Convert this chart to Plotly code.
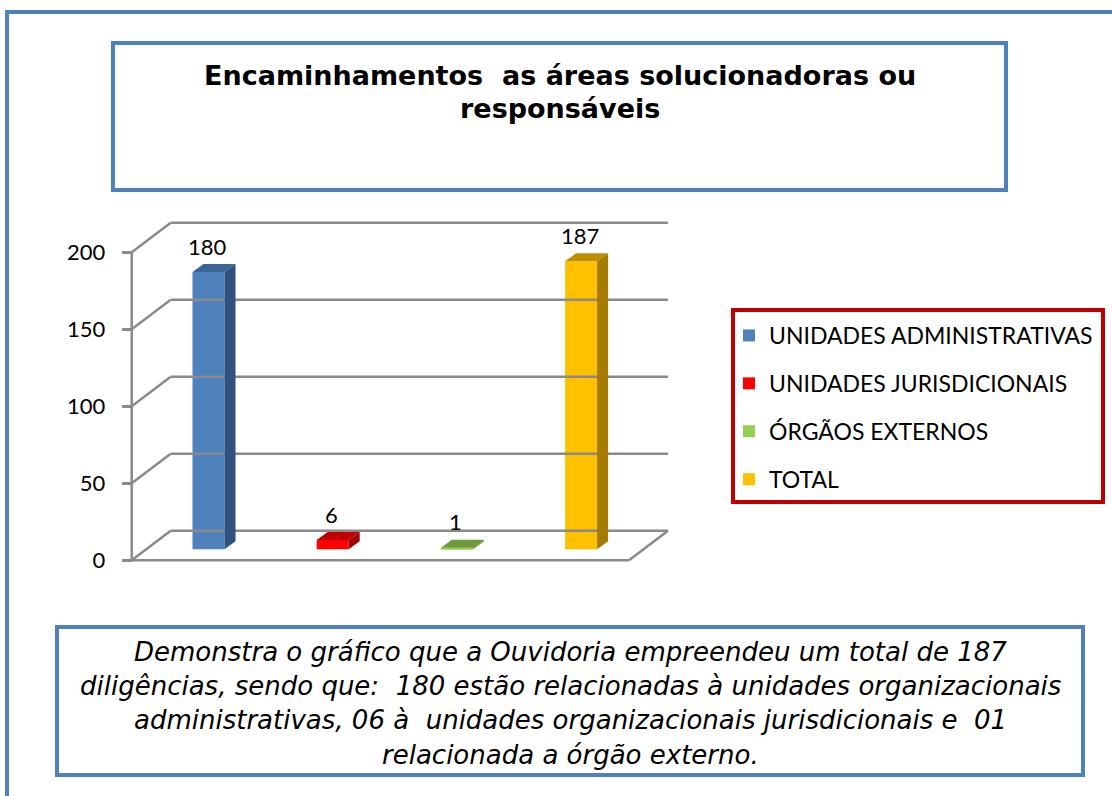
import plotly.graph_objects as go

# ---------------- data ----------------
categories = ["UNIDADES ADMINISTRATIVAS", "UNIDADES JURISDICIONAIS", "ÓRGÃOS EXTERNOS", "TOTAL"]
values = [180, 6, 1, 187]
y_ticks = [0, 50, 100, 150, 200]
title_lines = ["Encaminhamentos  as áreas solucionadoras ou", "responsáveis"]
note_lines = [
    "Demonstra o gráfico que a Ouvidoria empreendeu um total de 187",
    "diligências, sendo que:  180 estão relacionadas à unidades organizacionais",
    "administrativas, 06 à  unidades organizacionais jurisdicionais e  01",
    "relacionada a órgão externo.",
]

# ---------------- style ----------------
front_colors = ["#4F81BD", "#FF0000", "#92D050", "#FFC000"]
side_colors = ["#30527F", "#A00000", "#5E8A2C", "#A67C00"]
top_colors = ["#3D6698", "#C00000", "#6F9A3A", "#BF8F00"]
BLUE = "#4F81BD"
GRID = "#8A8A8A"
LABEL_FONT = "Lato"

W, H = 1112, 796
def pxx(p): return p / W
def pxy(p): return 1 - p / H

# layout geometry (pixels)
CAT0_PX, STEP_PX = 208.5, 124.2
BAR_W = 32 / STEP_PX
XDOM = (60, 720)
YS = 1.54                 # px per unit
BAR_BASE_PX = 549.3
FRONT_BASE_PX = 560.3
YR = (-10, 240)
SIDE_DX, SIDE_DY = 11 / STEP_PX, 8 / YS
BACK_DX, BACK_DY = 39 / STEP_PX, 29.5 / YS
FRONT_LEFT_PX, FRONT_RIGHT_PX = 131.7, 629
FRONT_LEFT = (FRONT_LEFT_PX - CAT0_PX) / STEP_PX
FRONT_RIGHT = (FRONT_RIGHT_PX - CAT0_PX) / STEP_PX

xrange = [(XDOM[0] - CAT0_PX) / STEP_PX, (XDOM[1] - CAT0_PX) / STEP_PX]
def ydom(base):
    top = base - YR[1] * YS
    bot = base - YR[0] * YS
    return [pxy(bot), pxy(top)]

fig = go.Figure()
for i, (cat, v, c) in enumerate(zip(categories, values, front_colors)):
    fig.add_trace(go.Bar(x=[i], y=[v], name=cat, marker_color=c, marker_line_width=0,
                         width=BAR_W, legendgroup=cat, xaxis="x", yaxis="y"))
fig.add_trace(go.Scatter(x=[0], y=[0], xaxis="x", yaxis="y2", mode="markers",
                         marker_opacity=0, showlegend=False, hoverinfo="skip"))

shapes = []
gl = dict(color=GRID, width=2.5)
# walls / gridlines (front plane = y2)
for t in y_ticks:
    shapes.append(dict(type="line", xref="x", yref="y2", x0=FRONT_LEFT, y0=t,
                       x1=FRONT_LEFT + BACK_DX, y1=t + BACK_DY, line=gl, layer="below"))
    shapes.append(dict(type="line", xref="x", yref="y2", x0=FRONT_LEFT + BACK_DX, y0=t + BACK_DY,
                       x1=FRONT_RIGHT + BACK_DX, y1=t + BACK_DY, line=gl, layer="below"))
shapes.append(dict(type="line", xref="x", yref="y2", x0=FRONT_LEFT, y0=0, x1=FRONT_LEFT, y1=y_ticks[-1],
                   line=gl, layer="below"))
shapes.append(dict(type="line", xref="x", yref="y2", x0=FRONT_LEFT, y0=0, x1=FRONT_RIGHT, y1=0,
                   line=gl, layer="below"))
shapes.append(dict(type="line", xref="x", yref="y2", x0=FRONT_RIGHT, y0=0,
                   x1=FRONT_RIGHT + BACK_DX, y1=BACK_DY, line=gl, layer="below"))

# 3D faces of bars
for i, v in enumerate(values):
    xl, xr = i - BAR_W / 2, i + BAR_W / 2
    side = f"M{xr},0 L{xr + SIDE_DX},{SIDE_DY} L{xr + SIDE_DX},{v + SIDE_DY} L{xr},{v} Z"
    top = f"M{xl},{v} L{xl + SIDE_DX},{v + SIDE_DY} L{xr + SIDE_DX},{v + SIDE_DY} L{xr},{v} Z"
    shapes.append(dict(type="path", xref="x", yref="y", path=side,
                       fillcolor=side_colors[i], line=dict(width=0), layer="above"))
    shapes.append(dict(type="path", xref="x", yref="y", path=top,
                       fillcolor=top_colors[i], line=dict(width=0), layer="above"))

# boxes
def rect(x0, y0, x1, y1, color, w):
    return dict(type="rect", xref="paper", yref="paper", x0=pxx(x0), x1=pxx(x1),
                y0=pxy(y1), y1=pxy(y0), line=dict(color=color, width=w), fillcolor="rgba(0,0,0,0)")
shapes.append(dict(type="line", xref="paper", yref="paper", x0=pxx(7), x1=pxx(7), y0=pxy(10), y1=0,
                   line=dict(color=BLUE, width=4)))
shapes.append(dict(type="line", xref="paper", yref="paper", x0=pxx(5), x1=1, y0=pxy(12), y1=pxy(12),
                   line=dict(color=BLUE, width=4)))
shapes.append(rect(113, 43, 1006, 190, BLUE, 4))
shapes.append(rect(57, 627, 1083, 775, BLUE, 4))
shapes.append(rect(733, 310, 1103, 502, "#C00000", 4))

annotations = []
for i, v in enumerate(values):
    annotations.append(dict(x=i, y=v, xref="x", yref="y", text=str(v), showarrow=False,
                            yanchor="middle", yshift=26, xshift=-1,
                            font=dict(size=22, color="black", family=LABEL_FONT)))
for line, yc in zip(title_lines, [75, 108]):
    annotations.append(dict(x=pxx(560), y=pxy(yc), xref="paper", yref="paper", text=f"<b>{line}</b>",
                            showarrow=False, font=dict(family="DejaVu Sans", size=27, color="black"),
                            yanchor="middle", xanchor="center"))
for line, yc in zip(note_lines, [652, 686, 720, 755]):
    annotations.append(dict(x=pxx(570), y=pxy(yc), xref="paper", yref="paper", text=f"<i>{line}</i>",
                            showarrow=False, font=dict(family="DejaVu Sans", size=26, color="black"),
                            yanchor="middle", xanchor="center"))

fig.update_layout(
    width=W, height=H, margin=dict(l=0, r=0, t=0, b=0),
    paper_bgcolor="white", plot_bgcolor="rgba(0,0,0,0)",
    barmode="overlay",
    xaxis=dict(domain=[pxx(XDOM[0]), pxx(XDOM[1])], range=xrange, visible=False),
    yaxis=dict(domain=ydom(BAR_BASE_PX), range=list(YR), visible=False),
    yaxis2=dict(domain=ydom(FRONT_BASE_PX), range=list(YR), anchor="free", position=pxx(FRONT_LEFT_PX),
                side="left", tickvals=y_ticks, ticks="outside", ticklen=10, tickwidth=2.5,
                tickcolor=GRID, showgrid=False, zeroline=False, showline=False,
                ticklabelstandoff=12,
                tickfont=dict(family=LABEL_FONT, size=22, color="black")),
    legend=dict(x=pxx(729), y=pxy(314), xanchor="left", yanchor="top",
                bgcolor="rgba(0,0,0,0)", font=dict(family=LABEL_FONT, size=23, color="black"),
                tracegroupgap=15, itemclick=False),
    shapes=shapes, annotations=annotations, showlegend=True,
)
fig.write_html("out.html", config={"displayModeBar": False},
               post_script="document.body.style.margin='0px';")
